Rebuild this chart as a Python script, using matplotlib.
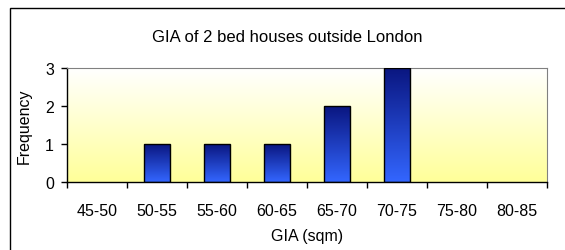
import numpy as np
import matplotlib.pyplot as plt
from matplotlib.colors import LinearSegmentedColormap
from matplotlib.patches import Rectangle

plt.rcParams['font.family'] = ['Liberation Sans', 'DejaVu Sans']

categories = ["45-50", "50-55", "55-60", "60-65", "65-70", "70-75", "75-80", "80-85"]
frequency = [0, 1, 1, 1, 2, 3, 0, 0]

W, H = 565, 251
fig = plt.figure(figsize=(W / 100, H / 100), dpi=100)
# chart border (behind the axes)
fig.patches.append(Rectangle((10 / W, -0.05), 1, (H - 9) / H + 0.05, transform=fig.transFigure,
                             facecolor="white", edgecolor="black", lw=1.0, zorder=-10))
ax = fig.add_axes([67 / W, (H - 183) / H, 480 / W, 114 / H])

x = np.arange(len(categories))

# background gradient: yellow at bottom, white at top
bg = LinearSegmentedColormap.from_list("bg", ["#ffff99", "#ffffff"])
grad = np.linspace(0, 1, 256).reshape(-1, 1)
ax.imshow(grad, cmap=bg, aspect="auto", origin="lower",
          extent=[-0.5, len(categories) - 0.5, 0, 3], zorder=0)

# bars with vertical gradient
barcm = LinearSegmentedColormap.from_list("bar", ["#3366ff", "#0a1680"])
bars = ax.bar(x, frequency, width=0.42, facecolor="none", edgecolor="black", lw=1.0, zorder=3)
for b, v in zip(bars, frequency):
    if v <= 0:
        b.set_linewidth(0)
        continue
    x0 = b.get_x()
    im = ax.imshow(grad, cmap=barcm, aspect="auto", origin="lower",
                   extent=[x0, x0 + b.get_width(), 0, v], zorder=2)
    im.set_clip_path(b)

ax.set_xlim(-0.5, len(categories) - 0.5)
ax.set_ylim(0, 3)

fs = 11.5
ax.set_yticks([0, 1, 2, 3])
ax.set_xticks(x)
ax.set_xticklabels(categories)
ax.set_xticks(np.arange(-0.5, len(categories)), minor=True)
ax.tick_params(axis="x", which="major", length=0, pad=15, labelsize=fs)
ax.tick_params(axis="x", which="minor", length=4, width=1, direction="out")
ax.tick_params(axis="y", length=4.3, width=1, direction="out", labelsize=fs, pad=5)

ax.spines["top"].set_color("#808080")
ax.spines["right"].set_color("#808080")
ax.spines["left"].set_linewidth(1.0)
ax.spines["bottom"].set_linewidth(1.0)

fig.text((67 + 547) / 2 / W, 1 - 237 / H, "GIA (sqm)", ha="center", va="center", fontsize=fs)
fig.text(24 / W, 1 - 126 / H, "Frequency", ha="center", va="center", rotation=90, fontsize=fs)
fig.text(287 / W, 1 - 37 / H, "GIA of 2 bed houses outside London",
         ha="center", va="center", fontsize=12)

fig.savefig("out.png", dpi=100)
